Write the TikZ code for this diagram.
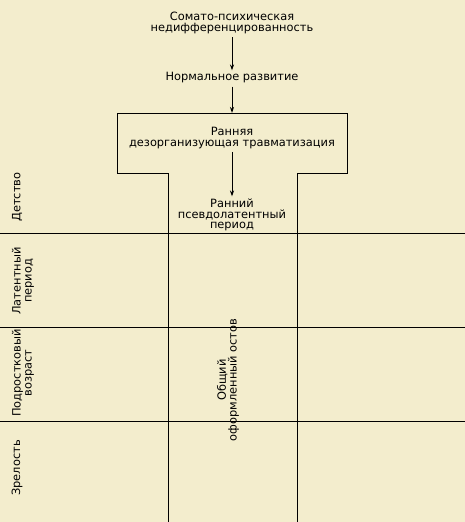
\documentclass[tikz,border=0pt]{standalone}
\usepackage{fontspec}
\setmainfont{DejaVu Sans}
\usetikzlibrary{arrows.meta}
\definecolor{bg}{RGB}{243,237,205}
\begin{document}
\begin{tikzpicture}[x=1pt,y=-1pt,
  lbl/.style={align=center,font=\fontsize{11.4}{10.8}\selectfont,inner sep=0pt},
  rlbl/.style={lbl,rotate=90},
  ln/.style={line width=1pt},
  arr/.style={ln,-{Stealth[length=6pt,width=4pt]}}]
\fill[bg] (0,0) rectangle (465,522);
\useasboundingbox (0,0) rectangle (465,522);
% T-shape
\draw[ln] (168,522) -- (168,173) -- (117,173) -- (117,113) -- (347,113) -- (347,173) -- (297,173) -- (297,522);
% horizontal lines
\draw[ln] (0,233) -- (465,233);
\draw[ln] (0,327) -- (465,327);
\draw[ln] (0,421) -- (465,421);
% texts
\node[lbl] (a) at (232,23) {Сомато-психическая\\недифференцированность};
\node[lbl] (b) at (232,78) {Нормальное развитие};
\node[lbl] (c) at (232,138) {Ранняя\\дезорганизующая травматизация};
\node[lbl] (d) at (232,215) {Ранний\\псевдолатентный\\период};
\coordinate (ctop) at (232,113);
\draw[arr] ([yshift=-3pt]a.south) -- ([yshift=2pt]b.north);
\draw[arr] ([yshift=-3pt]b.south) -- (ctop);
\draw[arr] ([yshift=-3pt]c.south) -- ([yshift=2pt]d.north);
\node[rlbl] (e) at (17,197) {Детство};
\node[rlbl] (f) at (23,281) {Латентный\\период};
\node[rlbl] (g) at (23,373) {Подростковый\\возраст};
\node[rlbl] (h) at (17,468) {Зрелость};
\node[rlbl] (k) at (228,380) {Общий\\оформленный остов};
\end{tikzpicture}
\end{document}
